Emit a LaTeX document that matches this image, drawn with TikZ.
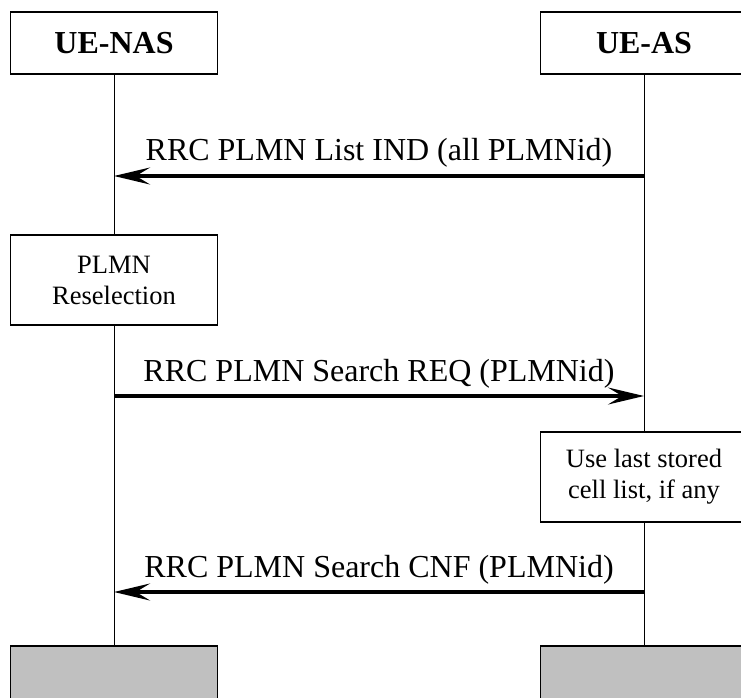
\documentclass[tikz,border=0pt]{standalone}
\usepackage{fontspec}
\setmainfont{Liberation Serif}
\usetikzlibrary{arrows.meta}
\definecolor{endgray}{RGB}{192,192,192}
\begin{document}
\begin{tikzpicture}[x=1pt,y=-1pt,
  hdr/.style={draw,line width=1.3pt,minimum width=207pt,minimum height=62pt,inner sep=0pt,
    font=\fontsize{32}{38}\selectfont\bfseries},
  act/.style={draw,fill=white,line width=1.3pt,minimum width=207pt,minimum height=90pt,inner sep=0pt,
    align=center,font=\fontsize{26.5}{31}\selectfont},
  endbox/.style={draw,fill=endgray,line width=1.3pt,minimum width=207pt,minimum height=74pt,inner sep=0pt},
  life/.style={line width=1pt},
  msg/.style={line width=3.5pt,-{Stealth[length=36pt,width=17pt,inset=14pt]}},
  lbl/.style={font=\fontsize{32}{38}\selectfont,anchor=base,inner sep=0pt}]
\useasboundingbox (0,0) rectangle (741,697);
% headers
\node[hdr] (nas) at (114,43) {UE-NAS};
\node[hdr] (as) at (644,43) {UE-AS};
% action boxes
\node[act] (resel) at (114,280) {PLMN\\Reselection};
\node[act] (use) at (644,477) {Use last stored\\cell list, if any};
% end boxes
\node[endbox] (endnas) at (114,683) {};
\node[endbox] (endas) at (644,683) {};
% lifelines
\draw[life] (nas.south) -- (resel.north);
\draw[life] (resel.south) -- (endnas.north);
\draw[life] (as.south) -- (use.north);
\draw[life] (use.south) -- (endas.north);
% message end points
\coordinate (m1s) at (644,176);
\coordinate (m1e) at (114,176);
\coordinate (m2s) at (114,396);
\coordinate (m2e) at (644,396);
\coordinate (m3s) at (644,592);
\coordinate (m3e) at (114,592);
% messages
\draw[msg] (m1s) -- (m1e);
\node[lbl] (l1) at (379,160) {RRC PLMN List IND (all PLMNid)};
\draw[msg] (m2s) -- (m2e);
\node[lbl] (l2) at (379,381) {RRC PLMN Search REQ (PLMNid)};
\draw[msg] (m3s) -- (m3e);
\node[lbl] (l3) at (379,577) {RRC PLMN Search CNF (PLMNid)};
\end{tikzpicture}
\end{document}
